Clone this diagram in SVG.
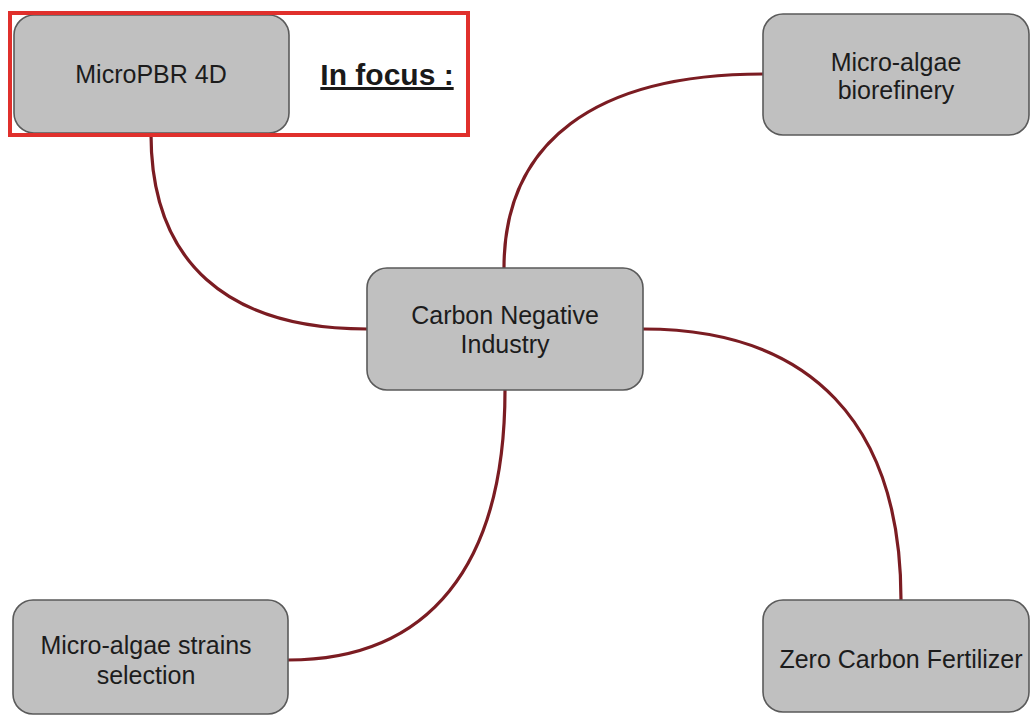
<svg xmlns="http://www.w3.org/2000/svg" width="1030" height="716" viewBox="0 0 1030 716">
<style>
.node{fill:#c0c0c0;stroke:#5a5a5a;stroke-width:1.6}
.lbl{font-family:"Liberation Sans",Arial,sans-serif;font-size:25px;fill:#1c1c1c;text-anchor:middle}
.conn{fill:none;stroke:#7b1c22;stroke-width:3.2}
</style>
<rect width="1030" height="716" fill="#ffffff"/>
<g id="connectors">
<path class="conn" d="M151,134 C151,262 227,329 367,329"/>
<path class="conn" d="M504,268 C504,142 595,74 763,74"/>
<path class="conn" d="M643,329 C811,329 901,424 901,600"/>
<path class="conn" d="M505,390 C505,566 429,660 288,660"/>
</g>
<g id="node-micropbr">
<rect class="node" x="14" y="15" width="275" height="118" rx="20"/>
<text class="lbl" x="151" y="83">MicroPBR 4D</text>
</g>
<g id="focus-frame">
<rect x="10" y="13" width="458" height="122" fill="none" stroke="#e0302c" stroke-width="4"/>
<text x="387" y="85" font-family="'Liberation Sans',Arial,sans-serif" font-size="30" font-weight="bold" fill="#1a1a1a" text-anchor="middle" text-decoration="underline">In focus :</text>
</g>
<g id="node-biorefinery">
<rect class="node" x="763" y="14" width="266" height="121" rx="20"/>
<text class="lbl" x="896" y="71">Micro-algae</text>
<text class="lbl" x="896" y="99">biorefinery</text>
</g>
<g id="node-carbon">
<rect class="node" x="367" y="268" width="276" height="122" rx="20"/>
<text class="lbl" x="505" y="324">Carbon Negative</text>
<text class="lbl" x="505" y="353">Industry</text>
</g>
<g id="node-strains">
<rect class="node" x="13" y="600" width="275" height="114" rx="20"/>
<text class="lbl" x="146" y="654">Micro-algae strains</text>
<text class="lbl" x="146" y="684">selection</text>
</g>
<g id="node-fertilizer">
<rect class="node" x="763" y="600" width="266" height="112" rx="20"/>
<text class="lbl" x="901" y="668">Zero Carbon Fertilizer</text>
</g>
</svg>
